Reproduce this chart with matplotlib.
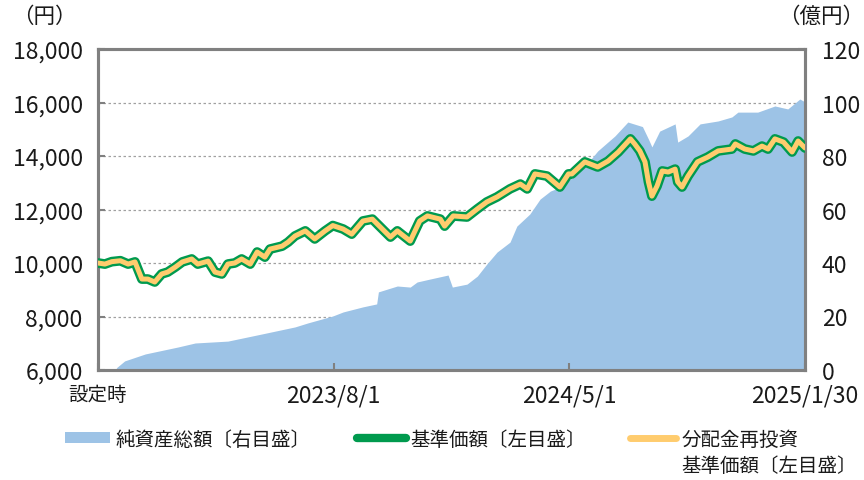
import matplotlib
matplotlib.use("Agg")
import matplotlib.pyplot as plt
import pandas as pd
from matplotlib.lines import Line2D
from matplotlib.patches import Patch

plt.rcParams['font.family'] = ['Noto Sans CJK JP', 'DejaVu Sans']

# --- data -------------------------------------------------------------
nav_dates = [
    "2022-10-31", "2022-11-08", "2022-11-16", "2022-11-26", "2022-12-05", "2022-12-13",
    "2022-12-21", "2022-12-28", "2023-01-05", "2023-01-13", "2023-01-20", "2023-01-29",
    "2023-02-06", "2023-02-17", "2023-02-24", "2023-03-08", "2023-03-16", "2023-03-24",
    "2023-03-31", "2023-04-08", "2023-04-16", "2023-04-26", "2023-05-04", "2023-05-13",
    "2023-05-19", "2023-06-02", "2023-06-09", "2023-06-17", "2023-06-29", "2023-07-10",
    "2023-07-22", "2023-07-31", "2023-08-12", "2023-08-22", "2023-09-04", "2023-09-15",
    "2023-09-30", "2023-10-06", "2023-10-14", "2023-10-29", "2023-11-09", "2023-11-18",
    "2023-12-03", "2023-12-08", "2023-12-18", "2024-01-03", "2024-01-15", "2024-01-26",
    "2024-02-07", "2024-02-22", "2024-03-05", "2024-03-13", "2024-03-22", "2024-04-05",
    "2024-04-20", "2024-04-30", "2024-05-04", "2024-05-19", "2024-06-03", "2024-06-15",
    "2024-06-27", "2024-07-11", "2024-07-16", "2024-07-22", "2024-07-28", "2024-08-01",
    "2024-08-05", "2024-08-11", "2024-08-17", "2024-08-24", "2024-09-01", "2024-09-04",
    "2024-09-09", "2024-09-16", "2024-09-27", "2024-10-09", "2024-10-21", "2024-11-06",
    "2024-11-10", "2024-11-21", "2024-12-01", "2024-12-11", "2024-12-18", "2024-12-26",
    "2025-01-05", "2025-01-15", "2025-01-22", "2025-01-30",
]
nav_values = [
    10000, 9960, 10050, 10085, 9960, 10040,
    9400, 9400, 9290, 9590, 9660, 9850,
    10040, 10150, 9960, 10070, 9660, 9590,
    9960, 10000, 10150, 9960, 10410, 10220,
    10520, 10630, 10780, 11010, 11200, 10900,
    11200, 11400, 11270, 11080, 11570, 11640,
    11160, 10970, 11200, 10820, 11570, 11760,
    11640, 11380, 11760, 11720, 12020, 12280,
    12470, 12770, 12950, 12770, 13330, 13250,
    12840, 13330, 13330, 13780, 13590, 13810,
    14150, 14640, 14450, 14190, 13780, 13030,
    12500, 12880, 13440, 13400, 13510, 13030,
    12840, 13250, 13780, 13960, 14190, 14260,
    14450, 14260, 14190, 14370, 14260, 14640,
    14520, 14150, 14560, 14300,
]
# distribution-reinvested NAV (no distributions paid -> same path)
reinv_values = list(nav_values)

asset_dates = [
    "2022-10-31", "2022-11-20", "2022-11-22", "2022-12-01", "2022-12-25", "2023-02-01",
    "2023-02-21", "2023-03-31", "2023-05-10", "2023-06-17", "2023-07-02", "2023-07-31",
    "2023-08-12", "2023-09-04", "2023-09-20", "2023-09-22", "2023-10-14", "2023-10-29",
    "2023-11-06", "2023-11-21", "2023-12-12", "2023-12-17", "2024-01-03", "2024-01-15",
    "2024-01-26", "2024-02-07", "2024-02-22", "2024-03-01", "2024-03-16", "2024-03-28",
    "2024-04-09", "2024-04-24", "2024-05-02", "2024-05-19", "2024-06-03", "2024-06-23",
    "2024-07-08", "2024-07-25", "2024-08-01", "2024-08-05", "2024-08-14", "2024-09-01",
    "2024-09-04", "2024-09-16", "2024-09-30", "2024-10-21", "2024-11-06", "2024-11-13",
    "2024-12-06", "2024-12-26", "2025-01-10", "2025-01-24", "2025-01-30",
]
asset_values = [
    0, 0, 1.0, 3.4, 6.0, 8.6,
    10.1, 10.8, 13.5, 16.1, 17.6, 20.2,
    21.7, 23.6, 24.7, 29.2, 31.4, 31.0,
    32.9, 34.0, 35.5, 31.0, 32.1, 35.1,
    39.6, 44.1, 47.8, 53.8, 58.3, 63.9,
    66.9, 68.8, 71.4, 76.0, 81.9, 87.5,
    92.7, 91.0, 86.3, 83.4, 89.3, 92.0,
    85.2, 87.5, 92.0, 93.1, 94.6, 96.4,
    96.4, 98.7, 97.6, 101.3, 100.2,
]

xtick_dates = ["2022-10-31", "2023-08-01", "2024-05-01", "2025-01-30"]
xtick_labels = ["設定時", "2023/8/1", "2024/5/1", "2025/1/30"]
left_ticks = [6000, 8000, 10000, 12000, 14000, 16000, 18000]
right_ticks = [0, 20, 40, 60, 80, 100, 120]

# --- figure -----------------------------------------------------------
nav_x = pd.to_datetime(nav_dates)
asset_x = pd.to_datetime(asset_dates)
xt = pd.to_datetime(xtick_dates)

fig = plt.figure(figsize=(8.64, 4.81), dpi=100)
ax = fig.add_axes([98/864, 1 - 371/481, 707/864, 321/481])
axr = ax.twinx()

spine_c = "#808080"
area_c = "#9dc3e6"
green = "#009a4e"
yellow = "#ffcc6e"
txt_c = "#1a1a1a"

# right axis: area + grid
axr.fill_between(asset_x, 0, asset_values, color=area_c, linewidth=0, zorder=2)
axr.set_ylim(0, 120)
axr.set_yticks(right_ticks)
for v in right_ticks[1:-1]:
    axr.axhline(v, color="#a0a0a0", linestyle=(0, (2, 2)), linewidth=0.9, zorder=1)

# left axis: lines on top
ax.set_zorder(axr.get_zorder() + 1)
ax.patch.set_visible(False)
ax.plot(nav_x, nav_values, color=green, linewidth=7.0, solid_capstyle="round",
        solid_joinstyle="round", zorder=3)
ax.plot(nav_x, reinv_values, color=yellow, linewidth=3.6, solid_capstyle="round",
        solid_joinstyle="round", zorder=4)
ax.set_ylim(6000, 18000)
ax.set_yticks(left_ticks)
ax.set_yticklabels([f"{v:,}" for v in left_ticks])
ax.set_xlim(xt[0], xt[-1])
ax.set_xticks(xt)
ax.set_xticklabels(xtick_labels)

for a in (ax, axr):
    for s in a.spines.values():
        s.set_color(spine_c)
        s.set_linewidth(2.2)
    a.tick_params(direction="in", color=spine_c, width=1.5, length=5,
                  labelsize=16.5, labelcolor=txt_c)

ax.tick_params(axis="y", pad=11)
axr.tick_params(axis="y", pad=12)
ax.tick_params(axis="x", pad=10)
xl = ax.get_xticklabels()
xl[0].set_fontsize(14)
xl[0].set_ha("center")
xl[-1].set_ha("center")

fig.text(12/864, 1 - 17/481, "（円）", fontsize=15.5, ha="left", va="center", color=txt_c)
fig.text(1.0, 1 - 17/481, "（億円）", fontsize=15.5, ha="right", va="center", color=txt_c)

# --- legend -----------------------------------------------------------
lfs = 14
common = dict(frameon=False, fontsize=lfs, borderpad=0, borderaxespad=0)
leg1 = fig.legend(handles=[Patch(facecolor=area_c, edgecolor="none")],
                  labels=["純資産総額〔右目盛〕"], loc="center left",
                  bbox_to_anchor=(65/864, 1 - 440/481),
                  handlelength=2.3, handleheight=0.55, handletextpad=0.3, **common)
leg2 = fig.legend(handles=[Line2D([0], [0], color=green, linewidth=6, solid_capstyle="round")],
                  labels=["基準価額〔左目盛〕"], loc="center left",
                  bbox_to_anchor=(357/864, 1 - 440/481),
                  handlelength=2.5, handletextpad=0.25, **common)
leg3 = fig.legend(handles=[Line2D([0], [0], color=yellow, linewidth=5, solid_capstyle="round")],
                  labels=["分配金再投資"], loc="center left",
                  bbox_to_anchor=(630/864, 1 - 440/481),
                  handlelength=2.35, handletextpad=0.3, **common)
for lg in (leg1, leg2, leg3):
    for t in lg.get_texts():
        t.set_color(txt_c)

# second line of the third legend label, aligned with its first line
fig.canvas.draw()
bb = leg3.get_texts()[0].get_window_extent()
x0 = bb.x0 / fig.bbox.width
fig.text(x0, 1 - 467/481, "基準価額〔左目盛〕", fontsize=lfs, ha="left", va="center",
         color=txt_c)

fig.savefig("out.png", dpi=100)
